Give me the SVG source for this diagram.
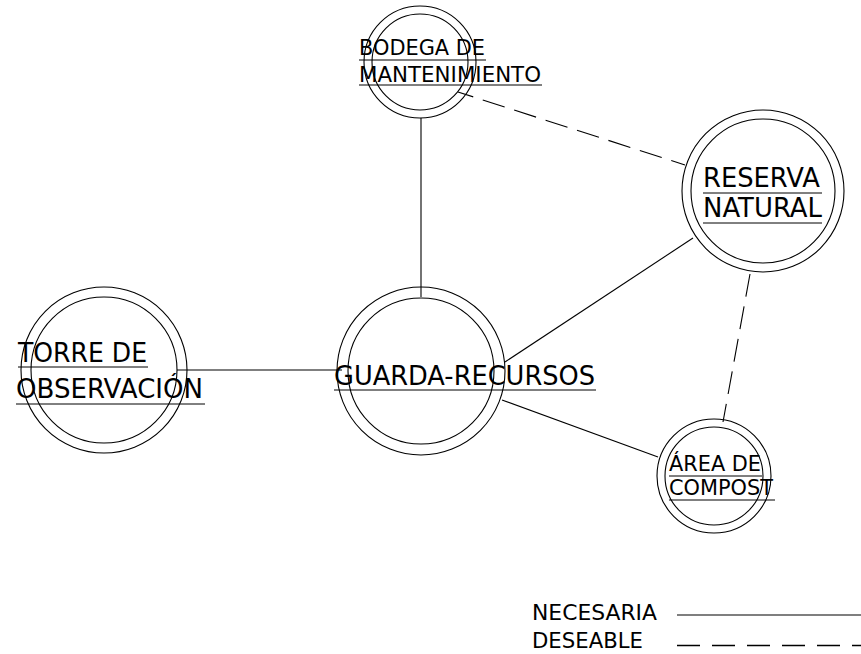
<svg xmlns="http://www.w3.org/2000/svg" width="861" height="654" viewBox="0 0 861 654">
<style>
.ring{fill:none;stroke:#000;stroke-width:1.1}
.ln{stroke:#000;stroke-width:1.1;fill:none}
.ds{stroke:#000;stroke-width:1.1;fill:none;stroke-dasharray:23 10}
.ul{stroke:#000;stroke-width:1;fill:none}
.t{font-family:"DejaVu Sans",Verdana,sans-serif;fill:#000}
</style>
<rect width="861" height="654" fill="#fff"/>
<g id="connectors">
<line class="ln" x1="421" y1="118" x2="421" y2="297"/>
<line class="ln" x1="177" y1="370" x2="342" y2="370"/>
<line class="ln" x1="505" y1="362" x2="693" y2="238"/>
<line class="ln" x1="502" y1="400" x2="658" y2="457"/>
<line class="ds" x1="458" y1="92" x2="685" y2="165" stroke-dashoffset="7"/>
<line class="ds" x1="750" y1="274" x2="723" y2="422"/>
</g>
<g id="bodega">
<circle class="ring" cx="420" cy="62" r="56"/>
<circle class="ring" cx="420" cy="62" r="48"/>
<text class="t" x="359" y="55" font-size="22" textLength="126" lengthAdjust="spacingAndGlyphs">BODEGA DE</text>
<line class="ul" x1="359" y1="60" x2="486" y2="60"/>
<text class="t" x="359" y="82" font-size="22" textLength="182" lengthAdjust="spacingAndGlyphs">MANTENIMIENTO</text>
<line class="ul" x1="359" y1="85" x2="542" y2="85"/>
</g>
<g id="reserva">
<circle class="ring" cx="763" cy="191" r="81"/>
<circle class="ring" cx="763" cy="191" r="72"/>
<text class="t" x="703" y="187" font-size="26" textLength="117" lengthAdjust="spacingAndGlyphs">RESERVA</text>
<line class="ul" x1="703" y1="193" x2="822" y2="193"/>
<text class="t" x="703" y="217" font-size="26" textLength="119" lengthAdjust="spacingAndGlyphs">NATURAL</text>
<line class="ul" x1="703" y1="223" x2="822" y2="223"/>
</g>
<g id="torre">
<circle class="ring" cx="104" cy="370" r="83"/>
<circle class="ring" cx="104" cy="370" r="73"/>
<text class="t" x="18" y="362" font-size="26" textLength="129" lengthAdjust="spacingAndGlyphs">TORRE DE</text>
<line class="ul" x1="18" y1="367" x2="148" y2="367"/>
<text class="t" x="16" y="398" font-size="26" textLength="187" lengthAdjust="spacingAndGlyphs">OBSERVACIÓN</text>
<line class="ul" x1="16" y1="404" x2="205" y2="404"/>
</g>
<g id="guarda">
<circle class="ring" cx="421" cy="371" r="84"/>
<circle class="ring" cx="421" cy="371" r="73"/>
<text class="t" x="334" y="385" font-size="26" textLength="261" lengthAdjust="spacingAndGlyphs">GUARDA-RECURSOS</text>
<line class="ul" x1="334" y1="390" x2="596" y2="390"/>
</g>
<g id="compost">
<circle class="ring" cx="714" cy="476" r="57"/>
<circle class="ring" cx="714" cy="476" r="49"/>
<text class="t" x="669" y="471" font-size="22" textLength="92" lengthAdjust="spacingAndGlyphs">ÁREA DE</text>
<line class="ul" x1="669" y1="476" x2="762" y2="476"/>
<text class="t" x="669" y="495" font-size="22" textLength="104" lengthAdjust="spacingAndGlyphs">COMPOST</text>
<line class="ul" x1="669" y1="500" x2="775" y2="500"/>
</g>
<g id="legend">
<text class="t" x="532" y="620" font-size="21.5" textLength="125" lengthAdjust="spacingAndGlyphs">NECESARIA</text>
<line x1="677" y1="615" x2="861" y2="615" stroke="#555" stroke-width="1.5"/>
<text class="t" x="532" y="648" font-size="21.5" textLength="111" lengthAdjust="spacingAndGlyphs">DESEABLE</text>
<line x1="677" y1="645.5" x2="861" y2="645.5" stroke="#000" stroke-width="1.4" stroke-dasharray="23 12"/>
</g>
</svg>
